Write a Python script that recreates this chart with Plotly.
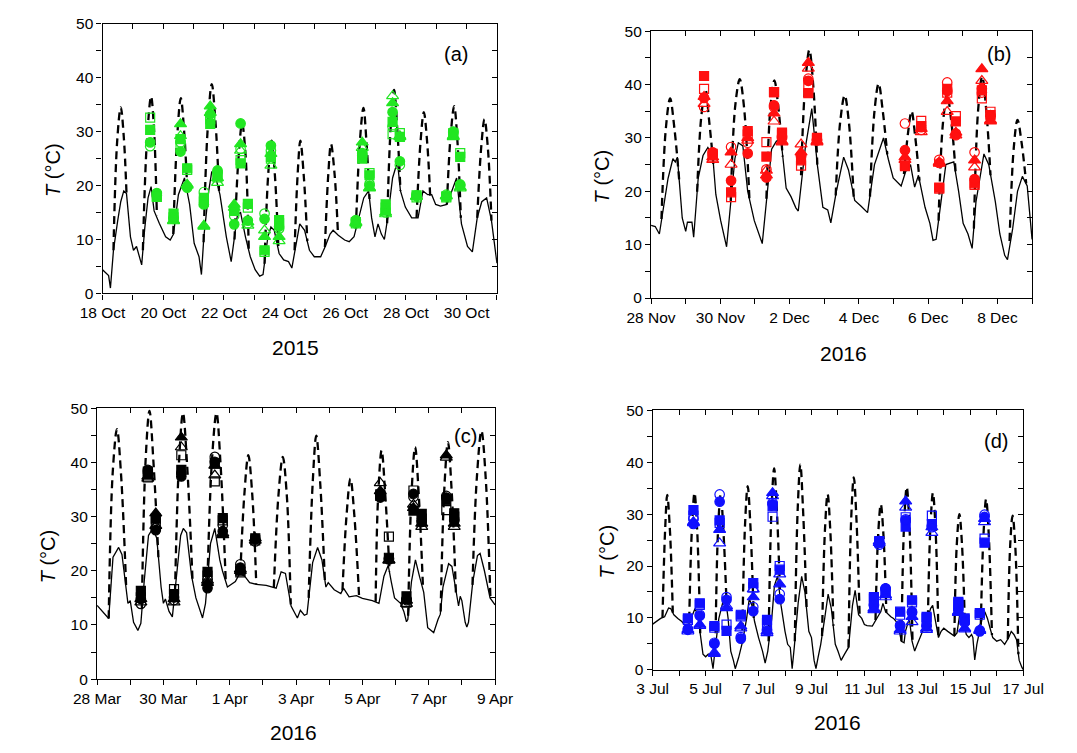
import pandas as pd
import plotly.graph_objects as go

W, H = 1077, 753
FONT = "Arial, Liberation Sans, sans-serif"
DAY_MS = 86400000

# ---------------- Panel (a) 2015 ----------------
a_start, a_end = "2015-10-18", "2015-10-31"
a_line_day = [0, 0.1, 0.2, 0.26, 0.36, 0.5, 0.6, 0.7, 0.79, 0.92, 1.02, 1.12, 1.29, 1.39, 1.5, 1.6, 1.7, 1.87, 2.08, 2.23,
              2.34, 2.5, 2.7, 2.87, 3.02, 3.18, 3.26, 3.34, 3.5, 3.6, 3.71, 3.87, 4.08, 4.24, 4.34, 4.45, 4.55, 4.71, 4.87,
              5.03, 5.18, 5.29, 5.45, 5.55, 5.66, 5.82, 5.97, 6.13, 6.24, 6.34, 6.5, 6.66, 6.82, 6.98, 7.19, 7.34, 7.5,
              7.6, 7.77, 7.98, 8.13, 8.29, 8.45, 8.61, 8.77, 8.87, 8.98, 9.08, 9.19, 9.29, 9.4, 9.56, 9.72, 9.82, 9.98,
              10.19, 10.4, 10.56, 10.72, 10.85, 10.98, 11.14, 11.35, 11.51, 11.67, 11.83, 12.03, 12.19, 12.35, 12.5,
              12.66, 12.82, 13.0]
a_line_T = [4.4, 3.8, 3.3, 1.0, 8, 13.5, 17, 19, 18.5, 10.5, 8, 8.7, 5.3, 12, 17.7, 19.8, 15.3, 13, 10.5, 9.9,
            11, 18.3, 21.4, 16.5, 9.3, 6.8, 3.5, 10.5, 19, 22.6, 22, 18.3, 10.5, 5.9, 9.9, 14.7, 15, 10.5, 6.8,
            4.4, 3.2, 3.5, 10.5, 12.3, 11.7, 7.4, 6.2, 5.9, 4.7, 8, 12.9, 11.7, 8, 6.8, 6.8, 8.7, 11,
            11.7, 10.8, 9.9, 9.6, 10.5, 14, 17.7, 19, 14, 10.5, 12.9, 11, 10, 14, 21.4, 24.4, 19, 16,
            14, 14, 19, 18.3, 18.3, 16.5, 16.2, 16.5, 19, 21.4, 12.9, 8.7, 7.7, 14, 17,
            17.7, 13.5, 5.6]
a_dash_day = [0.36, 0.48, 0.6, 0.7, 0.79, None, 1.33, 1.46, 1.6, 1.7, 1.79, None, 2.33, 2.46, 2.58, 2.69, 2.8, None,
              3.33, 3.46, 3.6, 3.72, 3.84, None, 4.35, 4.48, 4.6, 4.71, 4.82, None, 5.34, 5.46, 5.57, 5.68, 5.8, None,
              6.33, 6.43, 6.52, 6.63, 6.75, None, 7.33, 7.44, 7.53, 7.65, 7.76, None, 8.35, 8.48, 8.6, 8.7, 8.8, None,
              9.38, 9.5, 9.61, 9.72, 9.82, None, 10.35, 10.48, 10.59, 10.7, 10.8, None,
              11.35, 11.47, 11.59, 11.7, 11.81, None, 12.35, 12.48, 12.59, 12.7, 12.82]
a_dash_T = [8, 28, 34.5, 29, 18.5, None, 8, 28, 36.5, 30, 14.5, None, 11, 29, 36.2, 30, 18.5, None,
            9.5, 30, 38.8, 32, 19, None, 10, 25, 31.5, 26, 8, None, 5.5, 22, 28.3, 22, 8, None,
            8, 22, 28.3, 22, 9.7, None, 8.6, 22, 27.7, 22, 11, None, 12, 28, 34.4, 28, 17.5, None,
            13, 31, 37.7, 30, 19, None, 14, 28, 33.6, 28, 18, None,
            16.5, 29, 34.7, 28, 14, None, 14, 27, 32.3, 27, 13.5]
a_obs_day = [1.57, 1.79, 2.34, 2.57, 2.79, 3.34, 3.55, 3.79, 4.34, 4.55, 4.79, 5.34, 5.55, 5.82, 8.35, 8.56, 8.80,
             9.33, 9.56, 9.80, 10.35, 11.33, 11.56, 11.79]
a_fc = [28.0, 18.6, 14.0, 26.3, 19.6, 16.5, 33.2, 22.8, 12.8, 31.5, 13.5, 13.8, 27.4, 12.4, 13.6, 26.0, 20.0, 15.5, 33.6, 24.5, 18.0, 18.0, 30.0, 20.2]
a_oc = [27.3, 18.2, 13.8, 28.0, 19.8, 18.8, 32.8, 22.5, 14.4, 26.8, 13.0, 14.8, 26.5, 12.0, 13.0, 25.5, 20.3, 15.0, 30.9, 23.8, 18.2, 18.3, 29.8, 20.0]
a_fs = [30.3, 17.9, 14.8, 28.6, 23.2, 17.7, 31.4, 21.8, 15.5, 24.1, 16.6, 8.0, 25.3, 13.6, 13.2, 25.0, 21.9, 16.5, 31.8, 29.0, 18.2, 18.0, 29.5, 25.3]
a_os = [32.6, 18.0, 14.1, 27.4, 22.9, 17.0, 32.3, 21.5, 15.3, 24.7, 15.9, 7.7, 25.0, 13.0, 13.0, 25.6, 22.3, 15.9, 29.5, 29.7, 17.8, 17.8, 29.7, 26.0]
a_ft = [None, None, 13.5, 31.4, 20.2, 12.4, 34.7, 21.4, 16.5, 27.7, 13.2, 10.5, 25.9, 10.5, 13.0, 28.0, 19.6, 15.0, 35.3, 29.2, 18.0, 18.0, 29.2, 19.7]
a_ot = [None, None, 13.4, 29.2, 20.0, 12.6, 33.5, 20.5, 15.9, 26.5, 12.6, 11.7, 23.7, 9.7, 13.2, 27.0, 19.5, 14.7, 36.6, 29.0, 17.9, 18.1, 29.0, 19.5]

# ---------------- Panel (b) 2016 ----------------
b_start, b_end = "2016-11-28", "2016-12-09"
b_line_day = [0, 0.12, 0.24, 0.35, 0.49, 0.63, 0.7, 0.76, 0.9, 1.0, 1.05, 1.18, 1.23, 1.36, 1.5, 1.64, 1.78, 1.87, 2.01, 2.18,
              2.29, 2.42, 2.52, 2.65, 2.79, 2.98, 3.21, 3.35, 3.48, 3.62, 3.75, 3.9, 4.04, 4.18, 4.25, 4.45, 4.64, 4.8,
              4.96, 5.1, 5.19, 5.35, 5.56, 5.7, 5.88, 6.05, 6.25, 6.45, 6.71, 6.85, 6.99, 7.22, 7.35, 7.49, 7.61, 7.72,
              7.91, 8.05, 8.14, 8.23, 8.37, 8.51, 8.74, 8.88, 9.01, 9.15, 9.27, 9.38, 9.61, 9.75, 9.94, 10.07, 10.21,
              10.29, 10.44, 10.58, 10.72, 10.86, 11.0]
b_line_T = [13.6, 13.4, 12, 16.9, 22.4, 26.1, 25.5, 26.4, 15, 12.5, 14.2, 14.2, 11.4, 22.4, 26.7, 28.2, 26.7, 19.4, 14.5, 9.6,
            17.5, 26.1, 29.1, 28.5, 20, 14.5, 10.2, 20, 27.9, 29.4, 29.7, 20.6, 19, 16.9, 16.3, 28, 35.5, 25,
            17, 16.5, 14.1, 20, 26.4, 24, 18.3, 17.3, 16, 25, 30, 26, 22.5, 21, 23.7, 25, 20.8, 23,
            17, 14, 10.8, 11, 18, 25, 25.5, 20, 14, 12, 9.3, 18, 27, 25, 18, 12, 8,
            7.2, 13, 20, 22.8, 21, 11]
b_dash_day = [0.3, 0.43, 0.55, 0.67, 0.82, None, 1.33, 1.45, 1.57, 1.68, 1.8, None, 2.3, 2.43, 2.56, 2.68, 2.84, None,
              3.33, 3.45, 3.56, 3.67, 3.8, None, 4.33, 4.45, 4.57, 4.68, 4.8, None, 5.33, 5.46, 5.59, 5.71, 5.85, None,
              6.32, 6.45, 6.57, 6.69, 6.82, None, 7.3, 7.42, 7.52, 7.63, 7.75, None, 8.3, 8.43, 8.55, 8.67, 8.8, None,
              9.32, 9.44, 9.56, 9.68, 9.8, None, 10.35, 10.47, 10.58, 10.7, 10.83]
b_dash_T = [14.8, 32, 37.4, 32, 21.5, None, 19.9, 34, 39, 33, 25, None, 18.2, 36, 41, 36, 18.5, None,
            18.6, 36, 40.8, 36, 26.5, None, 23, 40, 46.5, 40, 25, None, 19.2, 33, 38, 33, 19, None,
            19, 35, 40.2, 35, 26.9, None, 23.2, 31, 35, 30, 22, None, 14.5, 33, 38, 33, 23, None,
            13, 35, 41.5, 35, 23, None, 10.7, 28, 33.4, 29, 21.5]
b_obs_day = [1.53, 1.78, 2.31, 2.79, 3.33, 3.55, 3.78, 4.33, 4.54, 4.79, 7.33, 7.8, 8.32, 8.55, 8.8, 9.34, 9.55, 9.8]
b_fc = [37.5, 27.3, 22.0, 27.1, 22.6, 36.1, 30.3, 26.8, 40.7, 29.7, 27.7, 32.0, 25.3, 38.8, 30.5, 22.3, 39.2, 34.0]
b_oc = [35.8, 26.8, 28.3, 29.1, 24.1, 35.8, 30.0, 26.5, 41.1, 29.5, 32.7, 31.5, 25.9, 40.4, 30.8, 27.3, 38.5, 34.3]
b_fs = [41.6, 27.0, 19.8, 31.3, 26.5, 38.6, 31.0, 25.8, 38.4, 30.0, 24.7, 32.2, 20.7, 39.2, 33.1, 21.5, 38.9, 34.3]
b_os = [39.2, 26.5, 18.9, 30.6, 29.2, 38.6, 30.6, 24.8, 39.5, 29.7, 25.0, 33.2, 20.5, 38.5, 34.1, 21.2, 37.4, 34.9]
b_ft = [37.7, 26.4, 27.3, 30.0, 23.0, 34.6, 29.2, 27.3, 44.1, 29.4, 26.4, 31.7, 25.2, 36.9, 31.0, 25.8, 42.9, 33.1]
b_ot = [36.4, 25.9, 25.0, 29.5, 23.9, 33.1, 29.4, 28.8, 43.0, 29.2, 25.9, 31.1, 25.5, 34.9, 30.5, 24.5, 40.7, 33.3]

# ---------------- Panel (c) 2016 ----------------
c_start, c_end = "2016-03-28", "2016-04-09"
c_line_day = [0, 0.2, 0.35, 0.48, 0.65, 0.75, 0.93, 1.0, 1.1, 1.23, 1.32, 1.42, 1.55, 1.68, 1.8, 1.93, 2.0, 2.06, 2.17, 2.27,
              2.38, 2.52, 2.6, 2.7, 2.85, 2.98, 3.18, 3.27, 3.42, 3.55, 3.7, 3.78, 3.93, 4.17, 4.3, 4.45, 4.6, 4.8, 5.1,
              5.4, 5.55, 5.68, 5.85, 5.93, 6.04, 6.13, 6.25, 6.33, 6.5, 6.65, 6.78, 6.9, 6.97, 7.15, 7.35, 7.43, 7.6,
              7.82, 8.0, 8.3, 8.5, 8.65, 8.78, 8.87, 8.97, 9.15, 9.25, 9.33, 9.37, 9.48, 9.6, 9.72, 9.85, 9.97, 10.1,
              10.15, 10.28, 10.35, 10.43, 10.6, 10.7, 10.83, 10.9, 10.95, 11.0, 11.1, 11.15, 11.2, 11.33, 11.47, 11.55,
              11.68, 11.85, 12.0]
c_line_T = [13.6, 12.2, 11.2, 22.5, 24.3, 23, 14, 14.5, 10.5, 9, 10.3, 18, 26.5, 27.8, 26, 17, 14, 14.8, 12.5, 11.5,
            18, 26.5, 27.8, 27, 19, 15, 11.3, 14, 25, 27.8, 22, 20, 17, 18, 19.5, 19, 17.8, 17.5, 17.3,
            16.8, 19.8, 19.5, 13.5, 12.5, 11.3, 12.7, 11.8, 12, 21.5, 24.3, 22, 17, 17.8, 16.5, 15.8, 16.8, 15.2,
            15.4, 14.9, 14.5, 14, 19, 21, 18, 15, 14, 12.5, 10.6, 11, 18, 22, 19, 16, 9.5, 8.8,
            8.6, 11, 12, 17, 21.3, 20.8, 15.5, 13.5, 15.3, 14.5, 10.5, 9.6, 10.5, 18, 22.8, 23.2,
            20, 15, 13.7]
c_dash_day = [0.35, 0.47, 0.6, 0.72, 0.88, None, 1.35, 1.46, 1.58, 1.7, 1.85, None, 2.35, 2.47, 2.59, 2.71, 2.88, None,
              3.33, 3.46, 3.6, 3.72, 3.88, None, 4.32, 4.44, 4.56, 4.68, 4.8, None, 5.33, 5.47, 5.6, 5.72, 5.84, None,
              6.38, 6.5, 6.61, 6.73, 6.87, None, 7.4, 7.52, 7.64, 7.76, 7.9, None, 8.4, 8.47, 8.58, 8.69, 8.82, None,
              9.38, 9.48, 9.59, 9.7, 9.83, None, 10.36, 10.47, 10.58, 10.69, 10.82, None,
              11.32, 11.45, 11.59, 11.72, 11.86]
c_dash_T = [11.2, 38, 46.1, 38, 16.5, None, 13, 40, 49.5, 40, 22.5, None, 16, 40, 49.1, 40, 18, None,
            18.5, 40, 49.1, 40, 18, None, 19.5, 34, 41.3, 34, 17.5, None, 16.9, 34, 41, 34, 13.8, None,
            15, 36, 44.9, 36, 18, None, 16.4, 30, 37, 30, 15.3, None, 14.3, 33, 42.2, 34, 19.8, None,
            11.7, 34, 42.8, 34, 16.5, None, 12.5, 35, 43.7, 35, 16, None,
            17.4, 37, 45.8, 37, 15]
c_obs_day = [1.32, 1.53, 1.77, 2.32, 2.54, 3.33, 3.55, 3.79, 4.32, 4.77, 8.54, 8.8, 9.33, 9.54, 9.79, 10.53, 10.77]
c_fc = [14.8, 38.6, 27.5, 15.1, 37.4, 16.8, 40.1, 27.3, 20.6, 25.8, 33.5, 22.1, 14.8, 34.2, 29.3, 33.5, 29.5]
c_oc = [13.9, 38.2, 27.8, 14.6, 38.0, 18.4, 41.0, 28.4, 21.2, 25.4, 33.8, 22.3, 14.6, 33.6, 29.0, 33.8, 29.2]
c_fs = [16.3, 38.3, 29.6, 15.7, 38.6, 19.8, 39.8, 29.7, 20.0, 26.0, 34.1, 22.4, 15.3, 31.1, 30.5, 33.0, 30.6]
c_os = [15.1, 37.2, 29.0, 16.6, 41.3, 19.1, 36.5, 29.3, 19.7, 25.6, 33.8, 26.3, 14.1, 34.8, 29.6, 31.2, 30.0]
c_ft = [14.8, 37.4, 30.6, 14.8, 44.6, 17.8, 39.4, 26.6, 20.3, 26.0, 34.7, 21.9, 14.5, 31.6, 28.7, 41.3, 28.7]
c_ot = [14.2, 37.0, 28.3, 14.2, 42.8, 18.2, 37.6, 26.9, 20.0, 25.6, 36.2, 22.0, 13.9, 32.2, 28.1, 40.9, 28.1]

# ---------------- Panel (d) 2016 ----------------
d_start, d_end = "2016-07-03", "2016-07-17"
d_line_day = [0, 0.15, 0.3, 0.45, 0.6, 0.68, 0.8, 0.95, 1.1, 1.2, 1.3, 1.45, 1.6, 1.7, 1.8, 1.9, 2.0, 2.1, 2.2, 2.28,
              2.35, 2.5, 2.65, 2.75, 2.85, 2.95, 3.05, 3.12, 3.25, 3.4, 3.55, 3.65, 3.75, 3.85, 4.0, 4.15, 4.25, 4.35,
              4.5, 4.6, 4.72, 4.85, 5.0, 5.1, 5.2, 5.27, 5.35, 5.5, 5.63, 5.75, 5.9, 6.0, 6.1, 6.17, 6.25, 6.35, 6.5,
              6.63, 6.75, 6.9, 7.0, 7.12, 7.25, 7.4, 7.55, 7.65, 7.78, 7.9, 8.0, 8.1, 8.3, 8.45, 8.55, 8.62, 8.7, 8.8,
              8.9, 9.0, 9.1, 9.25, 9.4, 9.5, 9.55, 9.62, 9.7, 9.8, 9.9, 10.0, 10.1, 10.2, 10.3, 10.4, 10.5, 10.58,
              10.68, 10.8, 10.9, 11.0, 11.15, 11.3, 11.4, 11.5, 11.6, 11.67, 11.75, 11.85, 11.95, 12.05, 12.1, 12.17,
              12.25, 12.35, 12.45, 12.55, 12.65, 12.75, 12.85, 13.0, 13.15, 13.3, 13.45, 13.55, 13.65, 13.75, 13.85,
              13.95, 14.0]
d_line_T = [8.8, 9.3, 9.9, 10.2, 11.9, 11.8, 10.6, 9.9, 9.3, 8.7, 8, 9.9, 11.8, 10.6, 6.2, 3, 2.5, 3, 2.7, 0.2,
            3.6, 9.9, 13, 13.7, 9.9, 3.6, 1.8, 0.2, 2.4, 5.5, 9.9, 13.7, 12.4, 9.3, 6.2, 3.6, 1.3, 3.6,
            9.9, 16.2, 18.1, 12.4, 7.4, 4.9, 4.3, 0.2, 4.3, 13, 18, 15, 7.4, 6.2, 1.8, 0.2, 2.4, 4.9, 9.9,
            14.6, 11.8, 4.9, 3.6, 1.8, 3, 4.3, 12.4, 15.3, 10.6, 9.9, 8.7, 8.5, 8.4, 9.9, 10.6, 11.2, 12.8, 11.2,
            10.6, 10.2, 9.9, 9, 5.5, 5.2, 7.4, 8.7, 9.9, 5.5, 3.6, 4.9, 6.2, 7.4, 8, 9.9, 11.8, 12.4,
            9.9, 6.2, 7.4, 8, 7.4, 6.8, 6.5, 7.1, 10.6, 10.9, 9.3, 6.8, 6.2, 6.8, 6.2, 1.9,
            4.9, 7.4, 9.9, 11.2, 9.9, 8, 6.2, 5.5, 5.8, 4.9, 6.2, 7.4, 6.8, 5.8, 1.8,
            0.5, 0]
d_dash_day = [0.37, 0.47, 0.55, 0.65, 0.76, None, 1.38, 1.48, 1.58, 1.68, 1.8, None, 2.37, 2.47, 2.57, 2.67, 2.8, None,
              3.38, 3.49, 3.59, 3.69, 3.82, None, 4.38, 4.49, 4.59, 4.69, 4.82, None, 5.37, 5.48, 5.58, 5.68, 5.82, None,
              6.4, 6.51, 6.61, 6.71, 6.83, None, 7.4, 7.5, 7.6, 7.7, 7.82, None, 8.42, 8.52, 8.62, 8.72, 8.83, None,
              9.4, 9.5, 9.6, 9.7, 9.82, None, 10.4, 10.49, 10.59, 10.69, 10.8, None, 11.4, 11.49, 11.59, 11.69, 11.8, None,
              12.4, 12.5, 12.6, 12.7, 12.82, None, 13.42, 13.51, 13.6, 13.7, 13.82]
d_dash_T = [10, 27, 33.7, 27, 11, None, 9.6, 27, 34.1, 27, 6.2, None, 4.5, 27, 33.9, 27, 11.8, None,
            5, 28, 35.4, 28, 10, None, 5.5, 31, 38.8, 31, 13.8, None, 5.5, 31, 39.6, 31, 11.5, None,
            6.5, 27, 33.9, 27, 8.5, None, 4.3, 29, 37.1, 29, 10.4, None, 9.6, 26, 31.9, 26, 11, None,
            5.5, 28, 35.2, 28, 5.1, None, 9.9, 27, 34.1, 27, 6.2, None, 6.5, 24, 30, 24, 8, None,
            8.7, 26, 32.9, 26, 6.7, None, 5.9, 24, 29.7, 24, 3]
d_obs_day = [1.33, 1.54, 1.78, 2.33, 2.53, 2.79, 3.33, 3.8, 4.32, 4.53, 4.8, 8.36, 8.56, 8.8, 9.35, 9.56, 9.8, 10.35,
             10.55, 11.55, 11.79, 12.36, 12.54]
d_fc = [7.7, 28.1, 10.4, 5.0, 32.4, 13.5, 6.0, 11.3, 7.5, 31.9, 13.6, 12.4, 24.4, 15.7, 8.4, 28.8, 11.2, 8.4, 27.8, 11.5, 9.3, 7.4, 29.5]
d_oc = [7.9, 29.1, 10.6, 5.2, 33.8, 14.0, 6.3, 12.1, 7.8, 32.2, 14.6, 12.6, 24.1, 15.5, 8.6, 29.0, 11.0, 8.6, 27.5, 11.8, 9.1, 7.6, 29.9]
d_fs = [9.9, 30.8, 12.8, 8.4, 28.8, 7.5, 10.6, 16.7, 9.6, 31.5, 19.3, 14.0, 24.6, 15.0, 11.2, 27.6, 13.4, 10.2, 28.1, 13.1, 9.9, 10.9, 24.5]
d_os = [9.6, 29.7, 12.5, 8.1, 28.3, 8.7, 10.3, 15.9, 9.0, 29.5, 20.0, 13.7, 24.8, 14.8, 10.6, 29.4, 13.0, 9.9, 29.7, 12.8, 9.6, 10.6, 25.3]
d_ft = [7.7, 28.5, 8.7, 3.1, 27.0, 11.9, 8.4, 14.0, 7.4, 34.1, 16.5, 11.5, 24.8, 14.4, 7.7, 32.5, 10.2, 8.0, 27.5, 11.2, 8.0, 7.7, 29.1]
d_ot = [7.4, 28.3, 8.5, 3.3, 24.4, 12.3, 8.0, 15.5, 7.1, 33.5, 18.4, 11.8, 24.5, 14.0, 7.4, 31.3, 9.2, 7.7, 26.4, 11.0, 7.8, 7.5, 28.5]

panel_labels = ["(a)", "(b)", "(c)", "(d)"]
year_labels = ["2015", "2016", "2016", "2016"]
colors = ["#22e622", "#ff1010", "#000000", "#1010ff"]


def to_dates(start, days):
    t0 = pd.Timestamp(start)
    return [None if d is None else (t0 + pd.Timedelta(days=d)).strftime("%Y-%m-%d %H:%M:%S") for d in days]


panels = [
    dict(start=a_start, end=a_end, ld=a_line_day, lT=a_line_T, dd=a_dash_day, dT=a_dash_T, od=a_obs_day,
         obs=[a_fs, a_fc, a_ft, a_os, a_oc, a_ot],
         box=(81, 15, 493, 291), title=(30, 165), year=(283, 346), lab=(450, 46)),
    dict(start=b_start, end=b_end, ld=b_line_day, lT=b_line_T, dd=b_dash_day, dT=b_dash_T, od=b_obs_day,
         obs=[b_fs, b_fc, b_ft, b_os, b_oc, b_ot],
         box=(654, 22.7, 1052, 295.7), title=(603, 171), year=(855, 352), lab=(1017, 46)),
    dict(start=c_start, end=c_end, ld=c_line_day, lT=c_line_T, dd=c_dash_day, dT=c_dash_T, od=c_obs_day,
         obs=[c_fs, c_fc, c_ft, c_os, c_oc, c_ot],
         box=(75.3, 408.3, 491, 685.7), title=(24, 560), year=(281, 740), lab=(460, 437)),
    dict(start=d_start, end=d_end, ld=d_line_day, lT=d_line_T, dd=d_dash_day, dT=d_dash_T, od=d_obs_day,
         obs=[d_fs, d_fc, d_ft, d_os, d_oc, d_ot],
         box=(655.7, 410.7, 1042.7, 676), title=(608, 555), year=(849, 730), lab=(1014, 442)),
]
symbols = ["square", "circle", "triangle-up", "square-open", "circle-open", "triangle-up-open"]
sizes = [9, 9.5, 10.5, 9, 9.5, 10.5]

fig = go.Figure()
layout = dict(width=W, height=H, margin=dict(l=0, r=0, t=0, b=0), paper_bgcolor="white",
              plot_bgcolor="white", showlegend=False, font=dict(family=FONT, color="black"))
annotations = []

for i, p in enumerate(panels):
    n = i + 1
    xa, ya = ("x" if n == 1 else f"x{n}"), ("y" if n == 1 else f"y{n}")
    xo, yo = f"x{n+4}", f"y{n+4}"
    col = colors[i]
    fig.add_trace(go.Scatter(x=to_dates(p["start"], p["ld"]), y=p["lT"], mode="lines",
                             line=dict(color="black", width=1.3), xaxis=xa, yaxis=ya, hoverinfo="skip"))
    fig.add_trace(go.Scatter(x=to_dates(p["start"], p["dd"]), y=p["dT"], mode="lines", connectgaps=False,
                             line=dict(color="black", width=2.3, dash="8px,5px", shape="spline", smoothing=1.0),
                             xaxis=xa, yaxis=ya, hoverinfo="skip"))
    ox = to_dates(p["start"], p["od"])
    for vals, sym, sz in zip(p["obs"], symbols, sizes):
        fig.add_trace(go.Scatter(x=ox, y=vals, mode="markers", xaxis=xa, yaxis=ya,
                                 marker=dict(symbol=sym, size=sz, color=col, line=dict(color=col, width=1.2))))
    # helper trace so the mirrored tick axes (top/right) exist
    fig.add_trace(go.Scatter(x=[p["start"], p["end"]], y=[0, 50], mode="markers", marker=dict(opacity=0),
                             xaxis=xo, yaxis=yo, hoverinfo="skip"))

    x0, y0, x1, y1 = p["box"]
    dom_x = [x0 / W, x1 / W]
    dom_y = [1 - y1 / H, 1 - y0 / H]
    tick_common = dict(tickcolor="black", tickwidth=1.2, ticklen=5)
    layout[f"xaxis{n}"] = dict(domain=dom_x, anchor=ya, type="date", range=[p["start"], p["end"]],
                               tick0=p["start"], dtick=2 * DAY_MS, tickformat="%-d %b", ticks="outside",
                               showline=True, linecolor="black", linewidth=1.3, mirror=True,
                               showgrid=False, zeroline=False,
                               tickfont=dict(size=15.5, family=FONT, color="black"),
                               minor=dict(dtick=DAY_MS, ticks="outside", showgrid=False, **tick_common),
                               **tick_common)
    layout[f"yaxis{n}"] = dict(domain=dom_y, anchor=xa, range=[0, 50], dtick=10, ticks="outside",
                               showline=True, linecolor="black", linewidth=1.3, mirror=True,
                               showgrid=False, zeroline=False,
                               tickfont=dict(size=15.5, family=FONT, color="black"),
                               minor=dict(dtick=5, ticks="outside", showgrid=False, **tick_common),
                               **tick_common)
    layout[f"xaxis{n+4}"] = dict(overlaying=xa, anchor=ya, side="top", type="date",
                                 range=[p["start"], p["end"]], tick0=p["start"], dtick=DAY_MS,
                                 ticks="inside", showticklabels=False, showgrid=False, zeroline=False,
                                 showline=False, **tick_common)
    layout[f"yaxis{n+4}"] = dict(overlaying=ya, anchor=xa, side="right", range=[0, 50], dtick=5,
                                 ticks="inside", showticklabels=False, showgrid=False, zeroline=False,
                                 showline=False, **tick_common)

    tx, ty = p["title"]
    annotations.append(dict(x=tx / W, y=1 - ty / H, xref="paper", yref="paper", text="<i>T</i> (°C)",
                            textangle=-90, showarrow=False, xanchor="center", yanchor="middle",
                            font=dict(size=20, family=FONT, color="black")))
    yx, yy = p["year"]
    annotations.append(dict(x=yx / W, y=1 - yy / H, xref="paper", yref="paper", text=year_labels[i],
                            showarrow=False, xanchor="center", yanchor="middle",
                            font=dict(size=21, family=FONT, color="black")))
    lx, ly = p["lab"]
    annotations.append(dict(x=lx / W, y=1 - ly / H, xref="paper", yref="paper", text=panel_labels[i],
                            showarrow=False, xanchor="center", yanchor="middle",
                            font=dict(size=20, family=FONT, color="black")))

layout["annotations"] = annotations
fig.update_layout(**layout)
fig.write_html("out.html")
